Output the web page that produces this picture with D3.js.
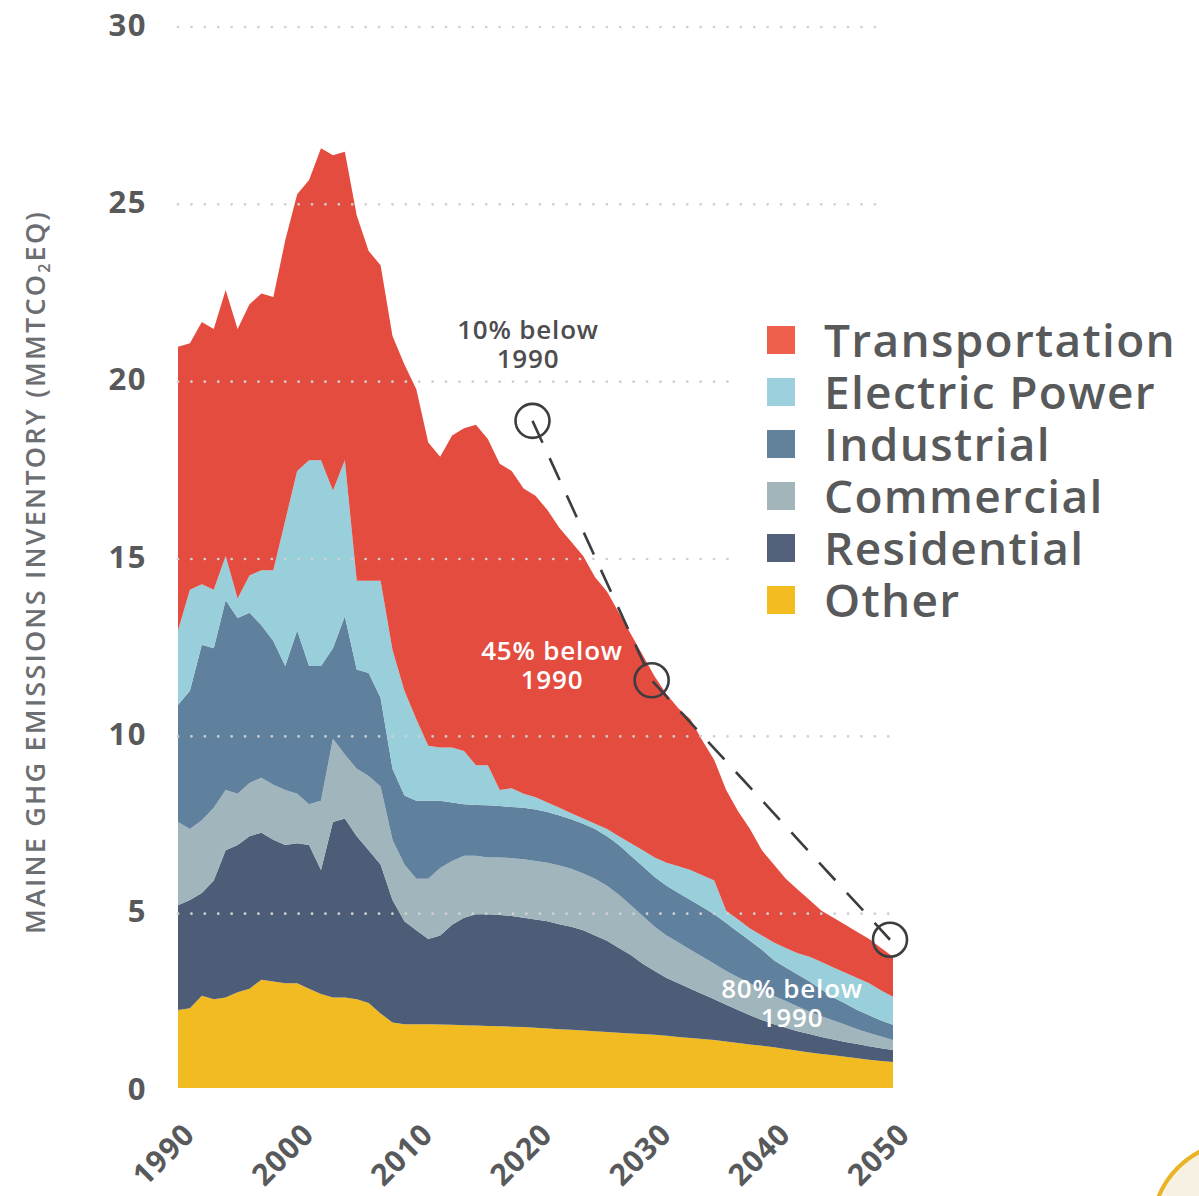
<!DOCTYPE html>
<html lang="en">
<head>
<meta charset="utf-8">
<title>Maine GHG Emissions</title>
<script src="https://cdnjs.cloudflare.com/ajax/libs/d3/7.8.5/d3.min.js"></script>
<style>
    body { margin: 0; background: #fff; }
    svg text { font-family: "Open Sans", sans-serif; }
    .tick text { fill: #58595b; font-weight: 700; }
</style>
</head>
<body>
<svg id="chart" width="1199" height="1196"></svg>
<script>
// years on the x axis, one value per year 1990-2050
var years = d3.range(1990, 2051);

// emissions by sector, MMTCO2eq
var other = [2.2,2.25,2.6,2.5,2.55,2.7,2.8,3.05,3.0,2.95,
    2.95,2.8,2.65,2.55,2.55,2.5,2.4,2.1,1.85,1.8,
    1.8,1.8,1.79,1.78,1.77,1.76,1.75,1.74,1.73,1.72,
    1.7,1.68,1.66,1.64,1.62,1.6,1.58,1.56,1.54,1.52,
    1.5,1.47,1.44,1.41,1.38,1.35,1.31,1.27,1.23,1.19,
    1.15,1.1,1.05,1.0,0.96,0.92,0.88,0.84,0.8,0.76,0.73];
var residential = [2.95,3.05,2.9,3.35,4.15,4.15,4.3,4.15,4.0,3.9,
    3.95,4.05,3.5,4.95,5.05,4.6,4.3,4.2,3.45,2.9,
    2.65,2.4,2.51,2.82,3.03,3.14,3.15,3.14,3.12,3.08,
    3.05,3.02,2.96,2.91,2.83,2.7,2.57,2.39,2.21,1.98,
    1.8,1.63,1.51,1.39,1.27,1.15,1.04,0.93,0.82,0.73,
    0.65,0.6,0.55,0.52,0.48,0.45,0.42,0.4,0.38,0.36,0.34];
var commercial = [2.35,2.0,2.05,2.05,1.7,1.45,1.5,1.55,1.55,1.55,
    1.4,1.15,1.95,2.35,1.8,1.9,2.1,2.2,1.7,1.6,
    1.45,1.7,1.9,1.8,1.75,1.65,1.6,1.62,1.63,1.65,
    1.65,1.65,1.65,1.63,1.6,1.6,1.55,1.5,1.4,1.35,
    1.25,1.2,1.15,1.1,1.05,1.0,0.95,0.92,0.9,0.86,
    0.8,0.75,0.7,0.63,0.58,0.53,0.48,0.42,0.37,0.33,0.28];
var industrial = [3.3,3.9,4.95,4.5,5.35,4.95,4.8,4.3,4.05,3.5,
    4.6,3.9,3.8,2.55,3.9,2.8,2.9,2.5,2.0,1.95,
    2.2,2.2,1.9,1.65,1.45,1.43,1.47,1.45,1.44,1.45,
    1.45,1.43,1.41,1.4,1.4,1.4,1.4,1.4,1.4,1.4,
    1.4,1.4,1.4,1.4,1.4,1.4,1.35,1.28,1.2,1.12,
    1.0,0.95,0.9,0.85,0.76,0.65,0.6,0.54,0.5,0.45,0.43];
var electric = [2.1,2.85,1.7,1.65,1.25,0.55,1.05,1.55,2.0,4.1,
    4.5,5.8,5.8,4.45,4.4,2.5,2.6,3.3,3.35,2.95,
    2.3,1.55,1.5,1.55,1.5,1.12,1.13,0.45,0.53,0.4,
    0.35,0.27,0.22,0.17,0.15,0.15,0.2,0.25,0.35,0.45,
    0.55,0.65,0.75,0.85,0.9,0.95,0.35,0.35,0.35,0.4,
    0.5,0.55,0.6,0.7,0.77,0.85,0.87,0.9,0.9,0.85,0.79];
var transportation = [8.0,6.95,7.4,7.35,7.5,7.6,7.65,7.8,7.7,7.9,
    7.8,7.9,8.8,9.45,8.7,10.3,9.3,8.9,8.85,9.2,
    9.3,8.55,8.2,8.8,9.1,9.6,9.2,9.2,8.95,8.6,
    8.5,8.25,7.9,7.65,7.4,6.95,6.7,6.3,5.9,5.5,
    5.1,4.75,4.45,4.25,3.8,3.4,3.4,3.05,2.8,2.4,
    2.2,1.95,1.8,1.6,1.45,1.4,1.35,1.3,1.25,1.2,1.13];

var sectors = ["Other", "Residential", "Commercial", "Industrial", "Electric Power", "Transportation"];
var colors = ["#f2bb22", "#4e5d77", "#a1b5bc", "#60819e", "#99cedb", "#e44c40"];
var legendColors = ["#f3bd22", "#52607a", "#a2b5bb", "#62829b", "#9dd0dd", "#ef604c"];

// reduction targets against 1990
var targetYears = [2020, 2030, 2050];
var targetCuts = [10, 45, 80];

var yTicks = [0, 5, 10, 15, 20, 25, 30];
var xTicks = [1990, 2000, 2010, 2020, 2030, 2040, 2050];

var svg = d3.select("#chart");

var x = d3.scaleLinear().domain([1990, 2050]).range([178, 893]);
var y = d3.scaleLinear().domain([0, 30]).range([1088, 24]);

var table = years.map(function(yr, i) {
    return {
        year: yr,
        "Other": other[i],
        "Residential": residential[i],
        "Commercial": commercial[i],
        "Industrial": industrial[i],
        "Electric Power": electric[i],
        "Transportation": transportation[i]
    };
});

var stacked = d3.stack().keys(sectors)(table);

var area = d3.area()
    .x(function(d) { return x(d.data.year); })
    .y0(function(d) { return y(d[0]); })
    .y1(function(d) { return y(d[1]); });

svg.append("g")
    .selectAll("path")
    .data(stacked)
    .enter()
    .append("path")
    .attr("d", area)
    .attr("fill", function(d, i) { return colors[i]; });

// dotted gridlines, drawn over the areas
var gridEnd = {30: 888, 25: 888, 20: 733, 15: 733, 10: 900, 5: 900};
svg.append("g")
    .selectAll("line")
    .data(yTicks.filter(function(t) { return t > 0; }))
    .enter()
    .append("line")
    .attr("x1", 178)
    .attr("x2", function(t) { return gridEnd[t]; })
    .attr("y1", function(t) { return y(t) + 3; })
    .attr("y2", function(t) { return y(t) + 3; })
    .attr("stroke", "#d0d0d0")
    .attr("stroke-width", 2.7)
    .attr("stroke-linecap", "round")
    .attr("stroke-dasharray", "0.1 13.3");

// y axis
var yAxis = svg.append("g")
    .attr("transform", "translate(147,0)")
    .call(d3.axisLeft(y).tickValues(yTicks).tickSize(0).tickPadding(0));
yAxis.select(".domain").remove();
yAxis.selectAll("text")
    .style("font-size", "31px")
    .style("letter-spacing", "1.5px")
    .attr("dy", "0.36em");

// x axis, labels at 45 degrees
var xAxis = svg.append("g")
    .attr("transform", "translate(0,1088)")
    .call(d3.axisBottom(x).tickValues(xTicks).tickFormat(d3.format("d")).tickSize(0));
xAxis.select(".domain").remove();
xAxis.selectAll("text")
    .style("font-size", "30px")
    .style("letter-spacing", "1px")
    .attr("text-anchor", "end")
    .attr("dy", 0)
    .attr("transform", "translate(16,46) rotate(-45)");

// y axis title
var title = svg.append("text")
    .attr("transform", "translate(45,572) rotate(-90)")
    .attr("text-anchor", "middle")
    .attr("fill", "#6d6e71")
    .style("font-size", "27px")
    .style("letter-spacing", "2.2px")
    .style("font-weight", 600);
title.append("tspan").text("MAINE GHG EMISSIONS INVENTORY (MMTCO");
title.append("tspan").attr("baseline-shift", "-30%").style("font-size", "16px").text("2");
title.append("tspan").text("EQ)");

// target path and circles
var base = table[0]["Other"] + table[0]["Residential"] + table[0]["Commercial"] +
    table[0]["Industrial"] + table[0]["Electric Power"] + table[0]["Transportation"];
var targets = targetYears.map(function(yr, i) {
    return {year: yr, cut: targetCuts[i], value: base * (1 - targetCuts[i] / 100)};
});

svg.append("path")
    .datum(targets)
    .attr("d", d3.line().x(function(d) { return x(d.year) - 3; }).y(function(d) { return y(d.value); }))
    .attr("fill", "none")
    .attr("stroke", "#3d3d3f")
    .attr("stroke-width", 2.6)
    .attr("stroke-dasharray", "24 17");

svg.append("g")
    .selectAll("circle")
    .data(targets)
    .enter()
    .append("circle")
    .attr("cx", function(d) { return x(d.year) - 3; })
    .attr("cy", function(d) { return y(d.value); })
    .attr("r", 17)
    .attr("fill", "none")
    .attr("stroke", "#3d3d3f")
    .attr("stroke-width", 2.6);

// target labels
var labelPos = [[528, 339, "#4d4d4f"], [552, 660, "#ffffff"], [792, 998, "#ffffff"]];
targets.forEach(function(d, i) {
    var t = svg.append("text")
        .attr("text-anchor", "middle")
        .attr("fill", labelPos[i][2])
        .style("font-size", "26px")
        .style("letter-spacing", "0.8px")
        .style("font-weight", 600);
    t.append("tspan").attr("x", labelPos[i][0]).attr("y", labelPos[i][1]).text(d.cut + "% below");
    t.append("tspan").attr("x", labelPos[i][0]).attr("y", labelPos[i][1] + 29).text("1990");
});

// legend
var legend = svg.append("g")
    .selectAll("g")
    .data(sectors.slice().reverse())
    .enter()
    .append("g")
    .attr("transform", function(d, i) { return "translate(767," + (326 + i * 52) + ")"; });

legend.append("rect")
    .attr("width", 28)
    .attr("height", 28)
    .attr("fill", function(d) { return legendColors[sectors.indexOf(d)]; });

legend.append("text")
    .attr("x", 57)
    .attr("y", 31)
    .attr("fill", "#58595b")
    .style("font-size", "46px")
    .style("letter-spacing", "1.3px")
    .style("font-weight", 600)
    .text(function(d) { return d; });

// corner of the state seal
svg.append("circle")
    .attr("cx", 1240)
    .attr("cy", 1230)
    .attr("r", 88)
    .attr("fill", "#f6f1e2")
    .attr("stroke", "#e8b325")
    .attr("stroke-width", 4);
</script>
</body>
</html>
